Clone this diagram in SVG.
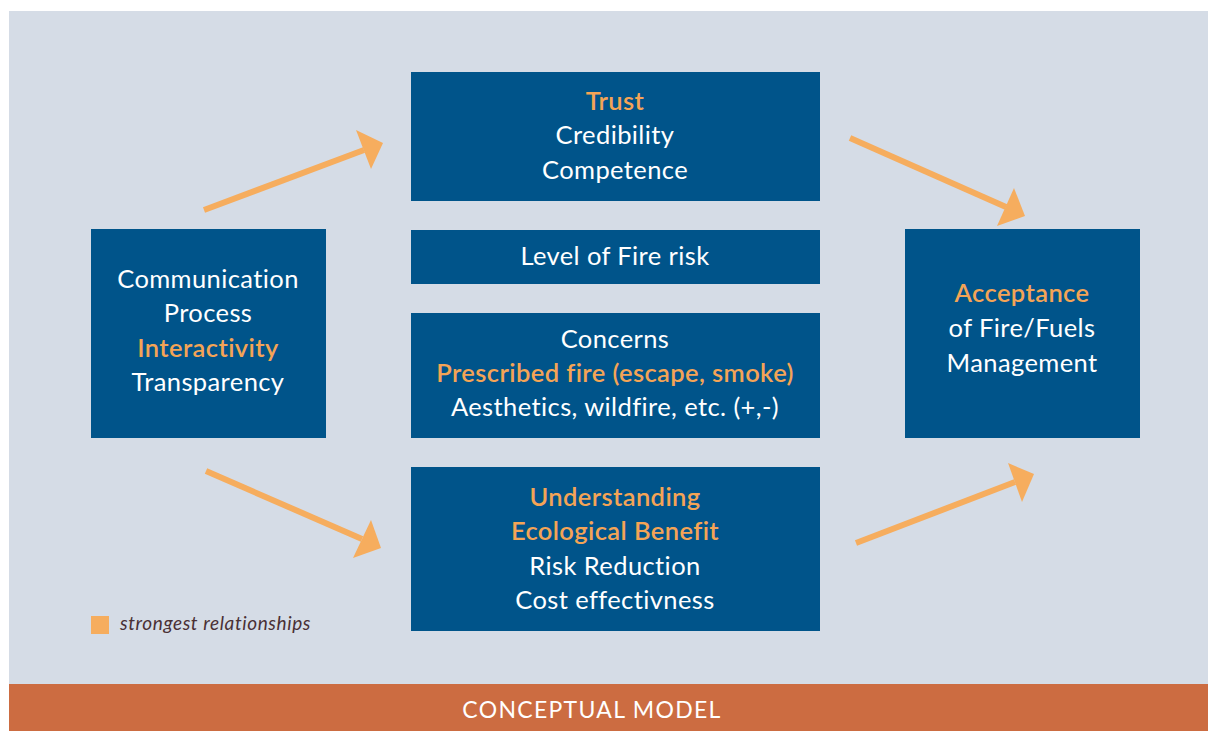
<svg xmlns="http://www.w3.org/2000/svg" width="1208" height="731" viewBox="0 0 1208 731">
  <style>
    .box { fill: #00548a; }
    .t { font-family: Lato, "Open Sans", "Liberation Sans", sans-serif; font-size: 25.5px; letter-spacing: 0.4px; fill: #ffffff; text-anchor: middle; }
    .o { fill: #f4a456; font-weight: 600; }
    .arrow-line { stroke: #f6ad5e; stroke-width: 6; fill: none; }
    .arrow-head { fill: #f6ad5e; }
  </style>
  <rect x="0" y="0" width="1208" height="731" fill="#ffffff"/>
  <rect x="9" y="11" width="1199" height="673" fill="#d5dce6"/>
  <rect x="9" y="684" width="1199" height="47" fill="#cc6c41"/>

  <g id="connectors">
    <line class="arrow-line" x1="204" y1="210" x2="364" y2="150"/>
    <polygon class="arrow-head" points="356,130 383,143 371,169"/>
    <line class="arrow-line" x1="206" y1="471" x2="362" y2="539"/>
    <polygon class="arrow-head" points="371,520 381,548 353,558"/>
    <line class="arrow-line" x1="850" y1="138" x2="1006" y2="207"/>
    <polygon class="arrow-head" points="1014,188 1025,216 997,226"/>
    <line class="arrow-line" x1="856" y1="543" x2="1015" y2="482"/>
    <polygon class="arrow-head" points="1008,463 1034,474 1022,502"/>
  </g>

  <g id="communication">
    <rect class="box" x="91" y="229" width="235" height="209"/>
    <text class="t" x="208" y="288">Communication</text>
    <text class="t" x="208" y="322">Process</text>
    <text class="t o" x="208" y="357">Interactivity</text>
    <text class="t" x="208" y="391">Transparency</text>
  </g>

  <g id="trust">
    <rect class="box" x="411" y="72" width="409" height="129"/>
    <text class="t o" x="615" y="110">Trust</text>
    <text class="t" x="615" y="144">Credibility</text>
    <text class="t" x="615" y="179">Competence</text>
  </g>

  <g id="fire-risk">
    <rect class="box" x="411" y="230" width="409" height="54"/>
    <text class="t" x="615" y="265">Level of Fire risk</text>
  </g>

  <g id="concerns">
    <rect class="box" x="411" y="313" width="409" height="125"/>
    <text class="t" x="615" y="348">Concerns</text>
    <text class="t o" x="615" y="382">Prescribed fire (escape, smoke)</text>
    <text class="t" x="615" y="416">Aesthetics, wildfire, etc. (+,-)</text>
  </g>

  <g id="understanding">
    <rect class="box" x="411" y="467" width="409" height="164"/>
    <text class="t o" x="615" y="506">Understanding</text>
    <text class="t o" x="615" y="540">Ecological Benefit</text>
    <text class="t" x="615" y="575">Risk Reduction</text>
    <text class="t" x="615" y="609">Cost effectivness</text>
  </g>

  <g id="acceptance">
    <rect class="box" x="905" y="229" width="235" height="209"/>
    <text class="t o" x="1022" y="302">Acceptance</text>
    <text class="t" x="1022" y="337">of Fire/Fuels</text>
    <text class="t" x="1022" y="372">Management</text>
  </g>

  <g id="legend">
    <rect x="91" y="616" width="18" height="18" fill="#f6ad5e"/>
    <text x="120" y="630" font-family="Lato, 'Open Sans', 'Liberation Sans', sans-serif" font-size="19" letter-spacing="0.6" font-style="italic" fill="#4a3035">strongest relationships</text>
  </g>

  <text x="592" y="718" font-family="Lato, 'Open Sans', 'Liberation Sans', sans-serif" font-size="23" letter-spacing="1.3" fill="#ffffff" text-anchor="middle">CONCEPTUAL MODEL</text>
</svg>
